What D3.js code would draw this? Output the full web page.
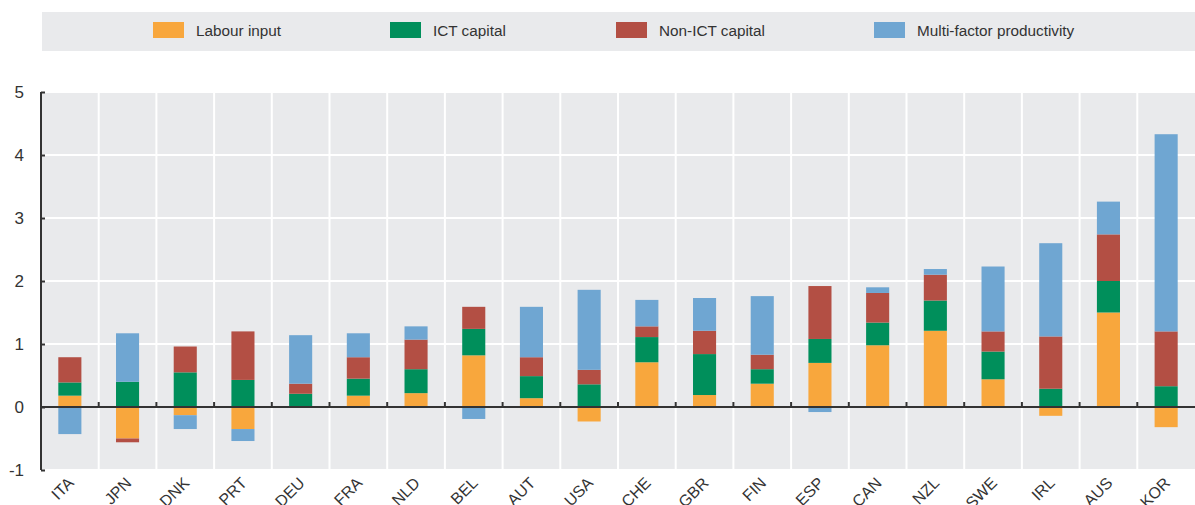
<!DOCTYPE html>
<html>
<head>
<meta charset="utf-8">
<script src="https://cdn.jsdelivr.net/npm/d3@7"></script>
<style>
  body { margin: 0; background: #fff; font-family: "Liberation Sans", Arial, sans-serif; }
</style>
</head>
<body>
<div id="chart"></div>
<script>
// data
const countries = ["ITA", "JPN", "DNK", "PRT", "DEU", "FRA", "NLD", "BEL", "AUT", "USA",
  "CHE", "GBR", "FIN", "ESP", "CAN", "NZL", "SWE", "IRL", "AUS", "KOR"];
const labourInput = [0.18, -0.50, -0.13, -0.35, 0.00, 0.18, 0.22, 0.82, 0.14, -0.23,
  0.71, 0.19, 0.37, 0.70, 0.98, 1.21, 0.44, -0.14, 1.50, -0.32];
const ictCapital = [0.21, 0.40, 0.55, 0.43, 0.21, 0.27, 0.38, 0.42, 0.35, 0.36,
  0.40, 0.65, 0.23, 0.38, 0.36, 0.48, 0.44, 0.29, 0.50, 0.33];
const nonIctCapital = [0.40, -0.06, 0.41, 0.77, 0.16, 0.34, 0.47, 0.35, 0.30, 0.23,
  0.17, 0.37, 0.23, 0.84, 0.47, 0.41, 0.32, 0.83, 0.74, 0.87];
const mfp = [-0.43, 0.77, -0.22, -0.19, 0.77, 0.38, 0.21, -0.19, 0.80, 1.27,
  0.42, 0.52, 0.93, -0.08, 0.09, 0.09, 1.03, 1.48, 0.52, 3.13];
const seriesNames = ["Labour input", "ICT capital", "Non-ICT capital", "Multi-factor productivity"];
const colors = ["#f8a73d", "#008f5b", "#b34f44", "#6fa6d2"];
const yTicks = [-1, 0, 1, 2, 3, 4, 5];

const W = 1195, H = 505;
const margin = { top: 92, right: 0, bottom: 35, left: 41 };
const width = W - margin.left - margin.right,
  height = H - margin.top - margin.bottom;

const svg = d3.select("#chart").append("svg")
  .attr("width", W).attr("height", H);

// legend
const legend = svg.append("g");
legend.append("rect")
  .attr("x", 42).attr("y", 12).attr("width", W - 42).attr("height", 39)
  .attr("fill", "#e9eaec");
const legendX = [153, 390, 616, 874];
seriesNames.forEach((name, i) => {
  const g = legend.append("g").attr("transform", `translate(${legendX[i]},22)`);
  g.append("rect").attr("width", 31).attr("height", 16).attr("fill", colors[i]);
  g.append("text").attr("x", 43).attr("y", 14)
    .style("font-size", "15.3px").style("fill", "#333")
    .text(name);
});

const rows = countries.map((c, i) => ({
  country: c, s0: labourInput[i], s1: ictCapital[i], s2: nonIctCapital[i], s3: mfp[i]
}));

const stack = d3.stack()
  .keys(["s0", "s1", "s2", "s3"])
  .offset(d3.stackOffsetDiverging);
const series = stack(rows);

const x = d3.scaleBand().domain(countries).range([0, width]).padding(0);
const y = d3.scaleLinear().domain([-1, 5]).range([height, 0]);

const g = svg.append("g").attr("transform", `translate(${margin.left},${margin.top})`);

g.append("rect").attr("width", width).attr("height", height).attr("fill", "#e9eaec");

// horizontal grid
g.selectAll(".hgrid").data(yTicks).join("line")
  .attr("x1", 0).attr("x2", width)
  .attr("y1", d => y(d)).attr("y2", d => y(d))
  .attr("stroke", "#fff").attr("stroke-width", 2);

// vertical grid at band boundaries
g.selectAll(".vgrid").data(countries.slice(1)).join("line")
  .attr("x1", d => x(d)).attr("x2", d => x(d))
  .attr("y1", 0).attr("y2", height)
  .attr("stroke", "#fff").attr("stroke-width", 2);

// bars
const barW = x.bandwidth() * 0.4;
g.selectAll(".series").data(series).join("g")
  .attr("fill", (d, i) => colors[i])
  .selectAll("rect").data(d => d).join("rect")
  .attr("x", d => x(d.data.country) + (x.bandwidth() - barW) / 2)
  .attr("width", barW)
  .attr("y", d => y(Math.max(d[0], d[1])))
  .attr("height", d => Math.abs(y(d[0]) - y(d[1])));

// zero line + ticks
g.append("line")
  .attr("x1", 0).attr("x2", width)
  .attr("y1", y(0)).attr("y2", y(0))
  .attr("stroke", "#333").attr("stroke-width", 2);
g.selectAll(".xtick").data(countries.slice(1)).join("line")
  .attr("x1", d => x(d)).attr("x2", d => x(d))
  .attr("y1", y(0) - 5).attr("y2", y(0))
  .attr("stroke", "#333").attr("stroke-width", 2);

// y axis
const yAxis = g.append("g")
  .call(d3.axisRight(y).tickValues(yTicks).tickSize(4).tickFormat(d => String(d)));
yAxis.select(".domain").attr("stroke", "#333").attr("stroke-width", 2)
  .attr("d", `M0,0V${height}`);
yAxis.selectAll(".tick line").attr("stroke", "#333").attr("stroke-width", 2);
yAxis.selectAll(".tick text")
  .attr("x", -17).attr("text-anchor", "end")
  .style("font-size", "17px").style("fill", "#333")
  .style("font-family", "'Liberation Sans', Arial, sans-serif");

// x labels
g.selectAll(".xlabel").data(countries).join("text")
  .attr("transform", d => `translate(${x(d) + x.bandwidth() / 2 + 5},${height + 14}) rotate(-45)`)
  .attr("text-anchor", "end")
  .style("font-size", "16px").style("fill", "#333")
  .text(d => d);
</script>
</body>
</html>
